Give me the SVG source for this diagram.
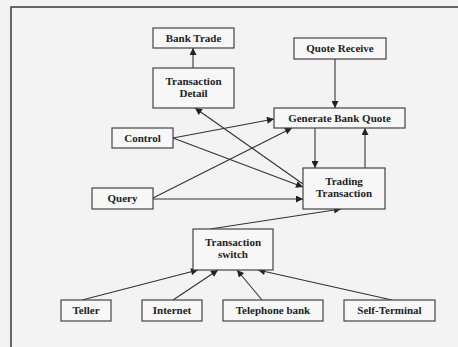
<svg xmlns="http://www.w3.org/2000/svg" width="458" height="347" viewBox="0 0 458 347">
<defs>
<style>
.bg{fill:#f3f3f3}
.frame{fill:none;stroke:#3a3a3a;stroke-width:1.5}
.box{fill:#f7f7f7;stroke:#444;stroke-width:1.2}
.lbl{font-family:"Liberation Serif","Times New Roman",serif;font-weight:bold;font-size:11px;fill:#222;text-anchor:middle}
.edge{fill:none;stroke:#333;stroke-width:1.1;marker-end:url(#ah)}
</style>
<marker id="ah" viewBox="0 0 10 10" refX="10" refY="5" markerWidth="8" markerHeight="7" markerUnits="userSpaceOnUse" orient="auto">
<path d="M0,0 L10,5 L0,10 z" fill="#222"/>
</marker>
</defs>
<rect class="bg" x="0" y="0" width="458" height="347"/>
<path class="frame" d="M11,347 L11,7 L458,7"/>

<g id="connectors">
<line class="edge" x1="193" y1="68" x2="193" y2="48"/>
<line class="edge" x1="335" y1="59" x2="335" y2="108"/>
<line class="edge" x1="315" y1="128" x2="315" y2="168"/>
<line class="edge" x1="365" y1="168" x2="365" y2="128"/>
<line class="edge" x1="173" y1="138" x2="274" y2="119"/>
<line class="edge" x1="173" y1="138" x2="303" y2="187"/>
<line class="edge" x1="303" y1="184" x2="195" y2="108"/>
<line class="edge" x1="153" y1="198" x2="292" y2="128"/>
<line class="edge" x1="153" y1="199" x2="303" y2="199"/>
<line class="edge" x1="210" y1="229" x2="341" y2="209"/>
<line class="edge" x1="82" y1="300" x2="198" y2="270"/>
<line class="edge" x1="173" y1="300" x2="218" y2="270"/>
<line class="edge" x1="262" y1="300" x2="237" y2="270"/>
<line class="edge" x1="392" y1="300" x2="258" y2="270"/>
</g>

<g id="bank-trade"><rect class="box" x="153" y="28" width="81" height="20"/><text class="lbl" x="193.5" y="42">Bank Trade</text></g>
<g id="transaction-detail"><rect class="box" x="153" y="68" width="81" height="40"/><text class="lbl" x="193.5" y="85">Transaction</text><text class="lbl" x="193.5" y="97">Detail</text></g>
<g id="quote-receive"><rect class="box" x="294" y="38" width="92" height="21"/><text class="lbl" x="340" y="52">Quote Receive</text></g>
<g id="control"><rect class="box" x="112" y="128" width="61" height="20"/><text class="lbl" x="142.5" y="142">Control</text></g>
<g id="generate-bank-quote"><rect class="box" x="274" y="108" width="131" height="20"/><text class="lbl" x="339.5" y="122">Generate Bank Quote</text></g>
<g id="trading-transaction"><rect class="box" x="303" y="168" width="82" height="41"/><text class="lbl" x="344" y="185">Trading</text><text class="lbl" x="344" y="197">Transaction</text></g>
<g id="query"><rect class="box" x="92" y="188" width="61" height="21"/><text class="lbl" x="122.5" y="202">Query</text></g>
<g id="transaction-switch"><rect class="box" x="193" y="229" width="80" height="41"/><text class="lbl" x="233" y="246">Transaction</text><text class="lbl" x="233" y="258">switch</text></g>
<g id="teller"><rect class="box" x="61" y="300" width="50" height="21"/><text class="lbl" x="86" y="314">Teller</text></g>
<g id="internet"><rect class="box" x="142" y="300" width="60" height="21"/><text class="lbl" x="172" y="314">Internet</text></g>
<g id="telephone-bank"><rect class="box" x="223" y="300" width="100" height="21"/><text class="lbl" x="273" y="314">Telephone bank</text></g>
<g id="self-terminal"><rect class="box" x="344" y="300" width="91" height="21"/><text class="lbl" x="389.5" y="314">Self-Terminal</text></g>
</svg>
